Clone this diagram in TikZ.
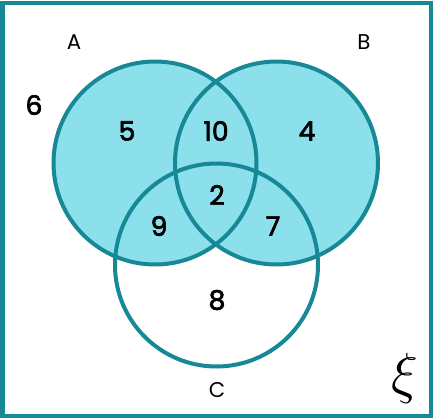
\documentclass[tikz,border=0pt]{standalone}
\usepackage{fontspec}
\setmainfont{Poppins}
\newfontfamily\numfont{Poppins}[FakeBold=2.5]
\definecolor{vennteal}{RGB}{23,136,150}
\definecolor{vennfill}{RGB}{140,224,236}
\tikzset{every picture/.style={line width=0.75pt}}
\tikzset{setline/.style={color=vennteal,draw opacity=1,line width=3pt}}
\tikzset{numtext/.style={anchor=center,inner sep=0.75pt,font=\numfont\fontsize{20}{24}\selectfont}}
\tikzset{settext/.style={anchor=center,inner sep=0.75pt,font=\fontsize{16}{19}\selectfont}}

\begin{document}
\begin{tikzpicture}[x=0.75pt,y=0.75pt,yscale=-1,xscale=1]
\useasboundingbox (0,0) rectangle (433,418);

%Shape: Rectangle [id:universe]
\draw [setline] (2.5,2.5) rectangle (430.5,415.5) ;
%Shape: Circle [id:fillA]
\fill [vennfill] (155,163) circle [radius=101.5] ;
%Shape: Circle [id:fillB]
\fill [vennfill] (276.5,163) circle [radius=101.5] ;
%Shape: Circle [id:circA]
\draw [setline] (155,163) circle [radius=101.5] ;
%Shape: Circle [id:circB]
\draw [setline] (276.5,163) circle [radius=101.5] ;
%Shape: Circle [id:circC]
\draw [setline] (216.5,265) circle [radius=101.5] ;

% Text Node
\draw (74,42) node [settext] (labA) {A};
% Text Node
\draw (364,42) node [settext] (labB) {B};
% Text Node
\draw (217,390) node [settext] (labC) {C};
% Text Node
\draw (34,105) node [numtext] (nOut) {6};
% Text Node
\draw (127,131) node [numtext] (nA) {5};
% Text Node
\draw (216,131) node [numtext] (nAB) {10};
% Text Node
\draw (307,131) node [numtext] (nB) {4};
% Text Node
\draw (217,195) node [numtext] (nABC) {2};
% Text Node
\draw (159,226) node [numtext] (nAC) {9};
% Text Node
\draw (273,226) node [numtext] (nBC) {7};
% Text Node
\draw (217,300) node [numtext] (nC) {8};
% Text Node
\draw (405,378) node [anchor=center,inner sep=0.75pt] (xi) {\scalebox{1.7}{\fontsize{24}{28}\selectfont$\xi$}};

\end{tikzpicture}
\end{document}
